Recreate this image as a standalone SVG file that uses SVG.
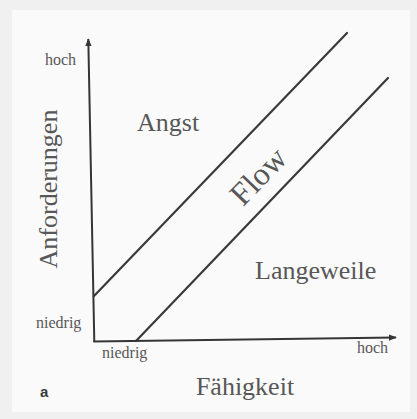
<svg xmlns="http://www.w3.org/2000/svg" width="417" height="419" viewBox="0 0 417 419">
<defs>
<style>
.ax{stroke:#353535;stroke-width:2;fill:none}
.ln{stroke:#3a3a3a;stroke-width:2.2;fill:none;stroke-linecap:round}
.t{font-family:"Liberation Serif","Times New Roman",serif;fill:#575757}
.big{font-size:26px}
.sm{font-size:16px}
</style>
<marker id="arr" viewBox="0 0 10 10" refX="9" refY="5" markerWidth="4" markerHeight="4" orient="auto" markerUnits="strokeWidth">
<path d="M0,1 L10,5 L0,9 Z" fill="#353535"/>
</marker>
</defs>
<rect width="417" height="419" fill="#f0f0f0"/>
<rect x="12" y="10" width="398" height="402" fill="#fafafa"/>
<g id="connectors">
<path id="y-axis" class="ax" d="M94.3,342 L88.3,39" marker-end="url(#arr)"/>
<path id="x-axis" class="ax" d="M93.3,341.5 L396,337.5" marker-end="url(#arr)"/>
<path id="upper-line" class="ln" d="M94,296 L347,33"/>
<path id="lower-line" class="ln" d="M136,341 L388,78"/>
</g>
<g id="axis-labels">
<text class="t sm" x="45" y="65">hoch</text>
<text class="t sm" x="36" y="328">niedrig</text>
<text class="t sm" x="102" y="358">niedrig</text>
<text class="t sm" x="357" y="353">hoch</text>
<text class="t big" transform="translate(57,189) rotate(-90)" text-anchor="middle">Anforderungen</text>
<text class="t big" x="245" y="395" text-anchor="middle">Fähigkeit</text>
</g>
<g id="angst"><text class="t big" x="137" y="131">Angst</text></g>
<g id="flow"><text class="t" font-size="32" transform="translate(258,176) rotate(-46)" text-anchor="middle" y="11">Flow</text></g>
<g id="langeweile"><text class="t big" x="255" y="279">Langeweile</text></g>
<g id="label-a"><text x="40" y="397" font-family="Liberation Sans,Arial,sans-serif" font-weight="bold" font-size="15" fill="#3a3a3a">a</text></g>
</svg>
